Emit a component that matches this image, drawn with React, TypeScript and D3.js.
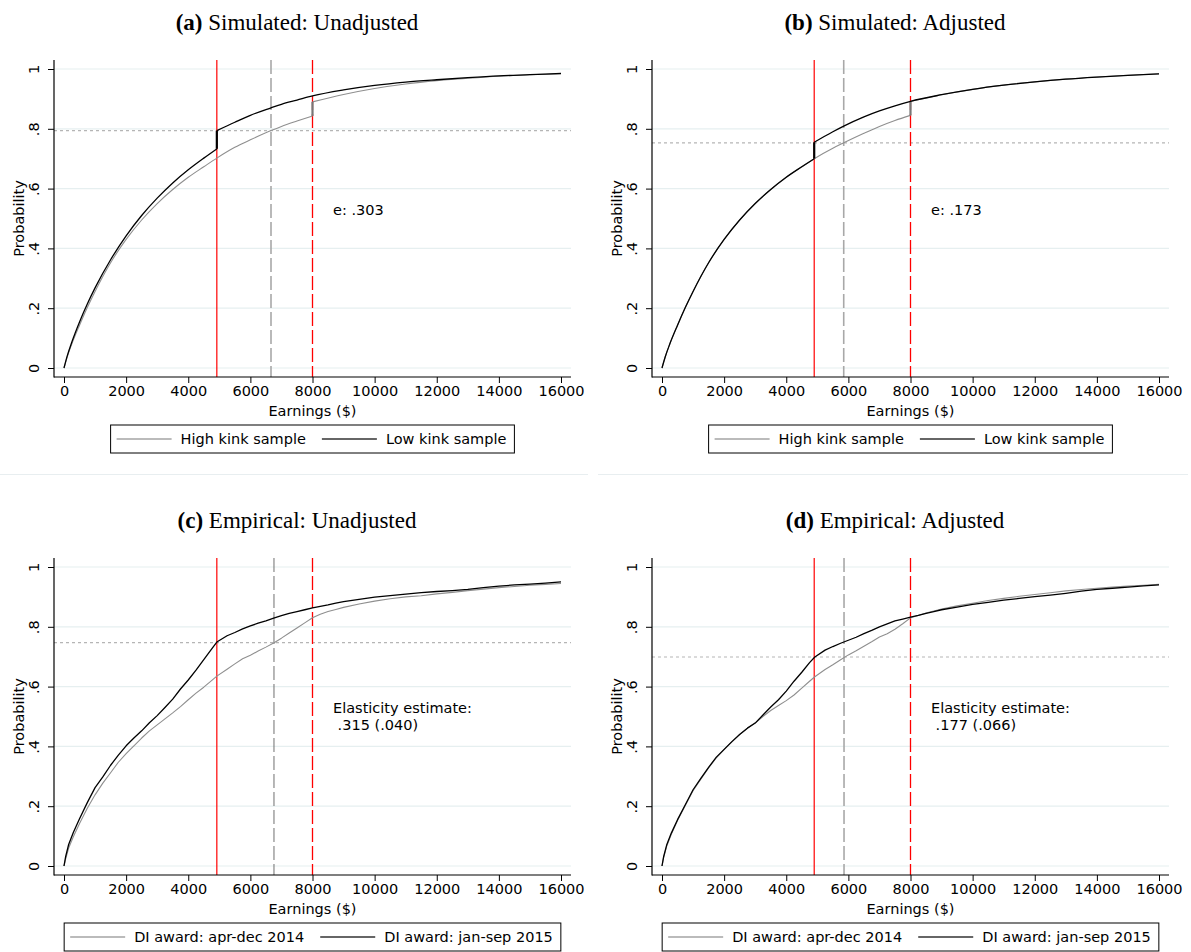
import React, { useEffect, useRef } from 'react';
import * as d3 from 'd3';

// axis ticks
const xTicks = [0, 2000, 4000, 6000, 8000, 10000, 12000, 14000, 16000];
const yTicks = [0, 0.2, 0.4, 0.6, 0.8, 1];
const yTickLabels = ['0', '.2', '.4', '.6', '.8', '1'];

// (a) simulated, unadjusted
const aLowX = [0, 100, 250, 500, 750, 1000, 1500, 2000, 2500, 3000, 3500, 4000, 4500, 4920, 4920, 5500, 6000, 6664, 7000, 7500, 8000, 9000, 10000, 11000, 12000, 13000, 14000, 15000, 16000];
const aLowY = [0, 0.039, 0.086, 0.154, 0.214, 0.268, 0.362, 0.442, 0.51, 0.568, 0.619, 0.663, 0.702, 0.733, 0.794, 0.822, 0.845, 0.87, 0.882, 0.896, 0.91, 0.93, 0.945, 0.956, 0.964, 0.971, 0.977, 0.981, 0.985];
const aHighX = [0, 100, 250, 500, 750, 1000, 1500, 2000, 2500, 3000, 3500, 4000, 4500, 4920, 5500, 6000, 6664, 7000, 7500, 8000, 8000, 9000, 10000, 11000, 12000, 13000, 14000, 15000, 16000];
const aHighY = [0, 0.036, 0.08, 0.143, 0.202, 0.256, 0.352, 0.43, 0.495, 0.55, 0.597, 0.638, 0.673, 0.702, 0.738, 0.763, 0.794, 0.808, 0.826, 0.843, 0.89, 0.915, 0.935, 0.95, 0.961, 0.969, 0.976, 0.981, 0.985];

// (b) simulated, adjusted
const bLowX = [0, 100, 250, 500, 750, 1000, 1500, 2000, 2500, 3000, 3500, 4000, 4500, 4900, 4900, 5500, 5850, 6500, 7000, 7500, 8000, 9000, 10000, 11000, 12000, 13000, 14000, 15000, 16000];
const bLowY = [0, 0.036, 0.08, 0.143, 0.202, 0.256, 0.352, 0.43, 0.495, 0.55, 0.597, 0.638, 0.673, 0.7, 0.755, 0.79, 0.809, 0.84, 0.86, 0.877, 0.892, 0.914, 0.932, 0.946, 0.957, 0.966, 0.973, 0.979, 0.984];
const bHighX = [0, 100, 250, 500, 750, 1000, 1500, 2000, 2500, 3000, 3500, 4000, 4500, 4900, 5500, 5850, 6500, 7000, 7500, 8000, 8000, 9000, 10000, 11000, 12000, 13000, 14000, 15000, 16000];
const bHighY = [0, 0.036, 0.08, 0.143, 0.202, 0.256, 0.352, 0.43, 0.495, 0.55, 0.597, 0.638, 0.673, 0.7, 0.735, 0.753, 0.785, 0.808, 0.828, 0.845, 0.892, 0.914, 0.932, 0.946, 0.957, 0.966, 0.973, 0.979, 0.984];

// (c), (d) empirical
const empX = [0, 50, 150, 300, 500, 750, 1000, 1250, 1500, 1750, 2000, 2250, 2500, 2750, 3000, 3250, 3500, 3750, 4000, 4250, 4500, 4750, 4920, 5250, 5500, 5750, 6000, 6250, 6500, 6750, 7000, 7250, 7500, 7750, 8000, 8250, 8500, 8750, 9000, 9500, 10000, 10500, 11000, 11500, 12000, 12500, 13000, 13500, 14000, 14500, 15000, 15500, 16000];
const c2015 = [0, 0.03, 0.072, 0.112, 0.158, 0.212, 0.262, 0.298, 0.337, 0.371, 0.402, 0.428, 0.452, 0.479, 0.503, 0.53, 0.558, 0.592, 0.622, 0.655, 0.69, 0.725, 0.749, 0.77, 0.781, 0.793, 0.803, 0.812, 0.82, 0.829, 0.837, 0.845, 0.851, 0.857, 0.863, 0.868, 0.873, 0.879, 0.884, 0.892, 0.899, 0.904, 0.909, 0.914, 0.918, 0.921, 0.925, 0.931, 0.936, 0.94, 0.943, 0.946, 0.95];
const c2014 = [0, 0.022, 0.06, 0.098, 0.142, 0.193, 0.238, 0.277, 0.312, 0.347, 0.376, 0.402, 0.428, 0.452, 0.472, 0.492, 0.512, 0.533, 0.556, 0.578, 0.598, 0.62, 0.635, 0.658, 0.676, 0.693, 0.705, 0.719, 0.732, 0.746, 0.762, 0.779, 0.796, 0.813, 0.83, 0.842, 0.851, 0.858, 0.865, 0.876, 0.886, 0.894, 0.9, 0.904, 0.91, 0.915, 0.921, 0.926, 0.931, 0.935, 0.939, 0.942, 0.945];
const d2015 = [0, 0.03, 0.07, 0.11, 0.155, 0.205, 0.255, 0.293, 0.33, 0.364, 0.39, 0.416, 0.44, 0.461, 0.478, 0.505, 0.532, 0.556, 0.585, 0.618, 0.648, 0.68, 0.699, 0.722, 0.734, 0.745, 0.755, 0.765, 0.777, 0.788, 0.8, 0.81, 0.82, 0.826, 0.832, 0.838, 0.845, 0.851, 0.857, 0.866, 0.875, 0.882, 0.889, 0.895, 0.901, 0.906, 0.912, 0.919, 0.925, 0.929, 0.933, 0.937, 0.94];
const d2014 = [0, 0.027, 0.066, 0.106, 0.152, 0.202, 0.252, 0.29, 0.328, 0.362, 0.389, 0.415, 0.44, 0.461, 0.478, 0.5, 0.52, 0.537, 0.553, 0.572, 0.595, 0.618, 0.633, 0.657, 0.673, 0.69, 0.706, 0.72, 0.735, 0.75, 0.766, 0.777, 0.792, 0.81, 0.83, 0.838, 0.846, 0.853, 0.859, 0.87, 0.879, 0.888, 0.895, 0.902, 0.908, 0.914, 0.92, 0.925, 0.929, 0.933, 0.936, 0.939, 0.942];

const simLegend = ['High kink sample', 'Low kink sample'];
const empLegend = ['DI award: apr-dec 2014', 'DI award: jan-sep 2015'];

const SANS = '"DejaVu Sans", Verdana, sans-serif';
const SERIF = '"Liberation Serif", "Times New Roman", serif';
const GREY = '#8f8f8f';

const panels = [
  { ox: 0, oy: 0, tag: '(a)', title: 'Simulated: Unadjusted', smooth: true,
    grey: [aHighX, aHighY], black: [aLowX, aLowY], kink: 4920, mid: 6664, midColor: '#a8a8a8', midW: 1.6,
    dotted: 0.794, legend: simLegend, note: ['e: .303'] },
  { ox: 598, oy: 0, tag: '(b)', title: 'Simulated: Adjusted', smooth: true,
    grey: [bHighX, bHighY], black: [bLowX, bLowY], kink: 4900, mid: 5850, midColor: '#a8a8a8', midW: 1.6,
    dotted: 0.753, legend: simLegend, note: ['e: .173'] },
  { ox: 0, oy: 498, tag: '(c)', title: 'Empirical: Unadjusted', smooth: false,
    grey: [empX, c2014], black: [empX, c2015], kink: 4920, mid: 6760, midColor: '#707070', midW: 1,
    dotted: 0.747, legend: empLegend, note: ['Elasticity estimate:', ' .315 (.040)'] },
  { ox: 598, oy: 498, tag: '(d)', title: 'Empirical: Adjusted', smooth: false,
    grey: [empX, d2014], black: [empX, d2015], kink: 4900, mid: 5860, midColor: '#a8a8a8', midW: 1.6,
    dotted: 0.699, legend: empLegend, note: ['Elasticity estimate:', ' .177 (.066)'] },
];

function drawSeries(g, x, y, xs, ys, color, width, smooth) {
  const pts = xs.map((d, i) => [d, ys[i]]);
  const segs = [[pts[0]]];
  const jumps = [];
  for (let i = 1; i < pts.length; i++) {
    if (pts[i][0] === pts[i - 1][0]) {
      jumps.push([pts[i - 1], pts[i]]);
      segs.push([pts[i]]);
    } else segs[segs.length - 1].push(pts[i]);
  }
  const line = d3.line().x(d => x(d[0])).y(d => y(d[1]))
    .curve(smooth ? d3.curveMonotoneX : d3.curveLinear);
  segs.forEach(s => {
    g.append('path').attr('d', line(s)).attr('fill', 'none')
      .attr('stroke', color).attr('stroke-width', width).attr('stroke-linejoin', 'round');
  });
  jumps.forEach(j => {
    g.append('line').attr('x1', x(j[0][0])).attr('x2', x(j[1][0]))
      .attr('y1', y(j[0][1])).attr('y2', y(j[1][1]))
      .attr('stroke', color === GREY ? '#777' : color).attr('stroke-width', 2.2);
  });
}

function drawPanel(svg, p) {
  const g = svg.append('g').attr('transform', `translate(${p.ox},${p.oy})`);
  const x = d3.scaleLinear().domain([0, 16000]).range([64, 561]);
  const y = d3.scaleLinear().domain([0, 1]).range([368, 69]);
  const left = 54, right = 571, top = 60, bottom = 377;

  const t = g.append('text').attr('x', 297).attr('y', 30).attr('text-anchor', 'middle')
    .style('font-family', SERIF).style('font-size', '23px').attr('fill', '#000');
  t.append('tspan').attr('font-weight', 'bold').text(p.tag);
  t.append('tspan').text(' ' + p.title);

  // grid
  g.selectAll('line.grid').data(yTicks).join('line').attr('class', 'grid')
    .attr('x1', left).attr('x2', right).attr('y1', d => y(d)).attr('y2', d => y(d))
    .attr('stroke', '#e6eff0').attr('stroke-width', 1.2);

  // reference lines
  g.append('line').attr('x1', left).attr('x2', right).attr('y1', y(p.dotted)).attr('y2', y(p.dotted))
    .attr('stroke', '#b5b5b5').attr('stroke-width', 1.2).attr('stroke-dasharray', '3,3');
  g.append('line').attr('x1', x(p.kink)).attr('x2', x(p.kink)).attr('y1', top).attr('y2', bottom)
    .attr('stroke', '#ff0000').attr('stroke-width', 1.2);
  g.append('line').attr('x1', x(p.mid)).attr('x2', x(p.mid)).attr('y1', top).attr('y2', bottom)
    .attr('stroke', p.midColor).attr('stroke-width', p.midW).attr('stroke-dasharray', '14,4');
  g.append('line').attr('x1', x(8000)).attr('x2', x(8000)).attr('y1', top).attr('y2', bottom)
    .attr('stroke', '#ff0000').attr('stroke-width', 1.3).attr('stroke-dasharray', '14,4');

  // curves
  drawSeries(g, x, y, p.grey[0], p.grey[1], GREY, 1.1, p.smooth);
  drawSeries(g, x, y, p.black[0], p.black[1], '#000', 1.3, p.smooth);

  // axes
  const xAxis = g.append('g').attr('transform', `translate(0,${bottom})`)
    .call(d3.axisBottom(x).tickValues(xTicks).tickFormat(d3.format('d')).tickSize(6).tickSizeOuter(0).tickPadding(3));
  xAxis.select('.domain').remove();
  xAxis.selectAll('text').style('font-family', SANS).style('font-size', '14.5px').attr('fill', '#000');
  xAxis.selectAll('line').attr('stroke', '#000');

  const yAxis = g.append('g').attr('transform', `translate(${left},0)`)
    .call(d3.axisLeft(y).tickValues(yTicks).tickFormat((d, i) => yTickLabels[i]).tickSize(6).tickSizeOuter(0));
  yAxis.select('.domain').remove();
  yAxis.selectAll('line').attr('stroke', '#000');
  yAxis.selectAll('text').attr('transform', 'rotate(-90)').attr('x', 0).attr('y', -15.5).attr('dy', 0)
    .attr('text-anchor', 'middle').style('font-family', SANS).style('font-size', '14.5px').attr('fill', '#000');

  g.append('line').attr('x1', left).attr('x2', left).attr('y1', top).attr('y2', bottom + 0.5).attr('stroke', '#000').attr('stroke-width', 1.2);
  g.append('line').attr('x1', left).attr('x2', right).attr('y1', bottom).attr('y2', bottom).attr('stroke', '#000').attr('stroke-width', 1.2);

  g.append('text').attr('x', (left + right) / 2).attr('y', 416).attr('text-anchor', 'middle')
    .style('font-family', SANS).style('font-size', '14.5px').text('Earnings ($)');
  g.append('text').attr('transform', `translate(24,${(y(0) + y(1)) / 2}) rotate(-90)`).attr('text-anchor', 'middle')
    .style('font-family', SANS).style('font-size', '14.5px').text('Probability');

  // annotation
  p.note.forEach((s, i) => {
    g.append('text').attr('x', 333).attr('y', (p.note.length > 1 ? 713 - 498 : 215) + i * 17)
      .attr('xml:space', 'preserve').style('white-space', 'pre')
      .style('font-family', SANS).style('font-size', '14.5px').text(s);
  });

  // legend
  const lg = g.append('g');
  const ly = 439;
  const texts = p.legend.map(s => lg.append('text').attr('y', ly + 5).style('font-family', SANS).style('font-size', '14.5px').text(s));
  const w = texts.map(tx => tx.node().getComputedTextLength());
  const pad = 6, len = 55, gap = 9, between = 16;
  const total = pad + len + gap + w[0] + between + len + gap + w[1] + pad + 2;
  const bx = (left + right) / 2 - total / 2;
  lg.insert('rect', 'text').attr('x', bx).attr('y', 425).attr('width', total).attr('height', 28)
    .attr('fill', '#fff').attr('stroke', '#000').attr('stroke-width', 1);
  let cx = bx + pad;
  lg.append('line').attr('x1', cx).attr('x2', cx + len).attr('y1', ly).attr('y2', ly).attr('stroke', '#a5a5a5').attr('stroke-width', 1.3);
  cx += len + gap;
  texts[0].attr('x', cx);
  cx += w[0] + between;
  lg.append('line').attr('x1', cx).attr('x2', cx + len).attr('y1', ly).attr('y2', ly).attr('stroke', '#333').attr('stroke-width', 1.3);
  cx += len + gap;
  texts[1].attr('x', cx);
}

const App = () => {
  const ref = useRef(null);

  useEffect(() => {
    const svg = d3.select(ref.current);
    svg.selectAll('*').remove();
    svg.append('rect').attr('width', 1191).attr('height', 952).attr('fill', '#fff');
    // faint frame edges between rows
    svg.append('line').attr('x1', 0).attr('x2', 588).attr('y1', 474.5).attr('y2', 474.5).attr('stroke', '#e8eef0');
    svg.append('line').attr('x1', 598).attr('x2', 1188).attr('y1', 474.5).attr('y2', 474.5).attr('stroke', '#e8eef0');
    panels.forEach(p => drawPanel(svg, p));
    return () => { svg.selectAll('*').remove(); };
  }, []);

  return <svg ref={ref} width={1191} height={952} style={{ position: 'absolute', left: 0, top: 0 }} />;
};

export default App;
